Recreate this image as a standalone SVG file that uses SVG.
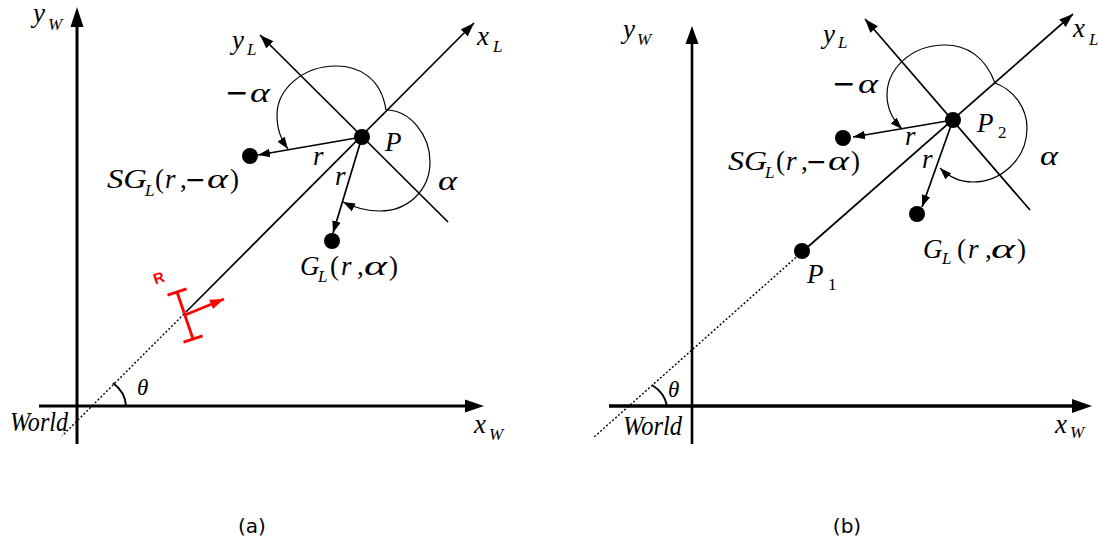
<svg xmlns="http://www.w3.org/2000/svg" width="1098" height="539" viewBox="0 0 1098 539">
<defs>
<style>
.m{font-family:"Liberation Serif","Times New Roman",serif;font-size:27px;font-style:italic;fill:#000}
.u{font-style:normal}
.mi{font-family:"DejaVu Sans",sans-serif;font-size:28px;font-weight:normal;fill:#000}
.s{font-family:"Liberation Serif","Times New Roman",serif;font-size:17px;font-style:italic;fill:#000}
.su{font-family:"Liberation Serif","Times New Roman",serif;font-size:17px;fill:#000}
.a{font-family:"Liberation Serif","Times New Roman",serif;font-size:27px;font-style:italic;fill:#000}
.cap{font-family:"DejaVu Sans",sans-serif;font-size:20px;fill:#000;text-anchor:middle}
.ax{stroke:#000;stroke-width:3;fill:none}
.loc{stroke:#000;stroke-width:1.7;fill:none}
.dot{stroke:#000;stroke-width:1.4;stroke-dasharray:2 2;fill:none}
.arc{stroke:#000;stroke-width:1.2;fill:none}
.rv{stroke:#000;stroke-width:1.7;fill:none}
.red{stroke:#f00;stroke-width:2.8;fill:none}
</style>
<marker id="hl" markerUnits="userSpaceOnUse" markerWidth="16" markerHeight="12" viewBox="0 -6 16 12" refX="14" refY="0" orient="auto"><path d="M0,-5 L14,0 L0,5 Z" fill="#000"/></marker>
<marker id="hs" markerUnits="userSpaceOnUse" markerWidth="14" markerHeight="10" viewBox="0 -5 14 10" refX="12" refY="0" orient="auto"><path d="M0,-4.3 L12,0 L0,4.3 Z" fill="#000"/></marker>
<marker id="hr" markerUnits="userSpaceOnUse" markerWidth="16" markerHeight="12" viewBox="0 -6 16 12" refX="14" refY="0" orient="auto"><path d="M0,-5 L14,0 L0,5 Z" fill="#f00"/></marker>
</defs>
<rect width="1098" height="539" fill="#fff"/>

<g id="connectors">
<!-- panel (a) world axes -->
<line class="ax" x1="77" y1="444" x2="77" y2="26"/>
<polygon points="77,7 70.5,27 83.5,27" fill="#000"/>
<line class="ax" x1="39" y1="406" x2="466" y2="406"/>
<polygon points="484,406 465,399.5 465,412.5" fill="#000"/>
<!-- panel (a) robot path and local axes -->
<line class="dot" x1="184" y1="314" x2="62" y2="436"/>
<line class="loc" x1="186" y1="312" x2="474" y2="23" marker-end="url(#hl)"/>
<line class="loc" x1="448" y1="222" x2="260" y2="35" marker-end="url(#hl)"/>
<path class="ax" style="stroke-width:2" d="M113,383 A36,32 0 0 1 126,406"/>
<!-- r vectors (a) -->
<line class="rv" x1="362" y1="137" x2="258" y2="155" marker-end="url(#hs)"/>
<line class="rv" x1="362" y1="137" x2="333" y2="233" marker-end="url(#hs)"/>
<!-- angle arcs (a) -->
<path class="arc" d="M386,110 C381,77 358,66 336,66 C302,66 277,90 277,115 C277,130 281,139 288,149" marker-end="url(#hs)"/>
<path class="arc" d="M386,110 C410,110 430,135 430,162 C430,190 408,211 380,211 C365,211 353,207 343,202" marker-end="url(#hs)"/>

<!-- panel (b) world axes -->
<line class="ax" style="stroke-width:2.6" x1="692" y1="444" x2="692" y2="43"/>
<polygon points="692,26 685.5,44 698.5,44" fill="#000"/>
<line class="ax" style="stroke-width:3.4" x1="609" y1="406" x2="1073" y2="406"/>
<polygon points="1092,406 1072,399 1072,413" fill="#000"/>
<!-- panel (b) line and local axes -->
<line class="dot" x1="802" y1="252" x2="593" y2="438"/>
<line class="loc" x1="802" y1="252" x2="1073" y2="14" marker-end="url(#hl)"/>
<line class="loc" x1="1030" y1="210" x2="865" y2="19" marker-end="url(#hl)"/>
<path class="ax" style="stroke-width:2" d="M652,385 A38,32 0 0 1 667,406"/>
<!-- r vectors (b) -->
<line class="rv" x1="953" y1="120" x2="853" y2="137" marker-end="url(#hs)"/>
<line class="rv" x1="953" y1="120" x2="922" y2="207" marker-end="url(#hs)"/>
<!-- angle arcs (b) -->
<path class="arc" d="M995,83 C985,56 966,45 945,45 C910,45 887,70 887,95 C887,110 893,120 902,129" marker-end="url(#hs)"/>
<path class="arc" d="M995,83 C1014,90 1027,108 1027,128 C1027,160 1000,182 973,182 C960,182 948,176 940,168" marker-end="url(#hs)"/>
</g>

<!-- panel (a) nodes -->
<g id="a-axes-labels">
<text class="m" x="33" y="22">y</text><text class="s" x="48" y="30">W</text>
<text class="m" x="474" y="433">x</text><text class="s" x="489" y="440">W</text>
<text class="m" x="232" y="49">y</text><text class="s" x="247" y="55">L</text>
<text class="m" x="477" y="45">x</text><text class="s" x="493" y="52">L</text>
<text class="m" x="10" y="431" textLength="58" lengthAdjust="spacingAndGlyphs">World</text>
<text class="m" x="137" y="395" style="font-size:23px">θ</text>
</g>
<g id="a-robot">
<line class="red" x1="177" y1="292" x2="193" y2="339"/>
<line class="red" x1="167.5" y1="295.2" x2="186.5" y2="288.8"/>
<line class="red" x1="183.5" y1="342.2" x2="202.5" y2="335.8"/>
<line class="red" x1="185" y1="315" x2="224" y2="299" marker-end="url(#hr)"/>
<text x="153" y="283" transform="rotate(-18 159 277)" style="font-family:'Liberation Sans',Arial,sans-serif;font-weight:bold;font-size:15px;fill:#f00">R</text>
</g>
<g id="a-P">
<circle cx="362" cy="137" r="8" fill="#000"/>
<text class="m" x="385" y="151">P</text>
</g>
<g id="a-angles">
<text class="mi" x="225" y="102">−</text><text class="a" x="250" y="102" textLength="20" lengthAdjust="spacingAndGlyphs">α</text>
<text class="a" x="438" y="190" textLength="19" lengthAdjust="spacingAndGlyphs">α</text>
<text class="m" x="313" y="165">r</text>
<text class="m" x="335" y="185">r</text>
</g>
<g id="a-SG">
<circle cx="250" cy="156" r="8" fill="#000"/>
<text class="m" x="107" y="188" textLength="40" lengthAdjust="spacingAndGlyphs">SG</text><text class="s" x="145" y="196">L</text>
<text class="m u" x="155" y="188">(</text><text class="m" x="165" y="188">r</text><text class="m u" x="180" y="188">,</text><text class="mi" x="185" y="188" style="font-size:25px">−</text><text class="a" x="207" y="188" textLength="21" lengthAdjust="spacingAndGlyphs">α</text><text class="m u" x="230" y="188">)</text>
</g>
<g id="a-G">
<circle cx="332" cy="241" r="8" fill="#000"/>
<text class="m" x="300" y="275">G</text><text class="s" x="318" y="282">L</text>
<text class="m u" x="330" y="275">(</text><text class="m" x="341" y="275">r</text><text class="m u" x="357" y="275">,</text><text class="a" x="364" y="275" textLength="23" lengthAdjust="spacingAndGlyphs">α</text><text class="m u" x="389" y="275">)</text>
</g>
<text class="cap" x="252" y="533">(a)</text>

<!-- panel (b) nodes -->
<g id="b-axes-labels">
<text class="m" x="623" y="38">y</text><text class="s" x="637" y="45">W</text>
<text class="m" x="1055" y="433">x</text><text class="s" x="1070" y="438">W</text>
<text class="m" x="823" y="43">y</text><text class="s" x="838" y="48">L</text>
<text class="m" x="1073" y="37">x</text><text class="s" x="1089" y="45">L</text>
<text class="m" x="623" y="435" textLength="59" lengthAdjust="spacingAndGlyphs">World</text>
<text class="m" x="668" y="397" style="font-size:23px">θ</text>
</g>
<g id="b-P1">
<circle cx="802" cy="251" r="8" fill="#000"/>
<text class="m" x="807" y="283">P</text><text class="su" x="828" y="290">1</text>
</g>
<g id="b-P2">
<circle cx="953" cy="120" r="8" fill="#000"/>
<text class="m" x="977" y="132">P</text><text class="su" x="998" y="138">2</text>
</g>
<g id="b-angles">
<text class="mi" x="832" y="93">−</text><text class="a" x="858" y="93" textLength="20" lengthAdjust="spacingAndGlyphs">α</text>
<text class="a" x="1040" y="165" textLength="18" lengthAdjust="spacingAndGlyphs">α</text>
<text class="m" x="905" y="145">r</text>
<text class="m" x="922" y="168">r</text>
</g>
<g id="b-SG">
<circle cx="843" cy="138" r="8" fill="#000"/>
<text class="m" x="728" y="170" textLength="39" lengthAdjust="spacingAndGlyphs">SG</text><text class="s" x="765" y="178">L</text>
<text class="m u" x="776" y="170">(</text><text class="m" x="786" y="170">r</text><text class="m u" x="801" y="170">,</text><text class="mi" x="806" y="170" style="font-size:25px">−</text><text class="a" x="828" y="170" textLength="21" lengthAdjust="spacingAndGlyphs">α</text><text class="m u" x="851" y="170">)</text>
</g>
<g id="b-G">
<circle cx="917" cy="214" r="8" fill="#000"/>
<text class="m" x="923" y="258">G</text><text class="s" x="942" y="264">L</text>
<text class="m u" x="957" y="258">(</text><text class="m" x="968" y="258">r</text><text class="m u" x="985" y="258">,</text><text class="a" x="991" y="258" textLength="24" lengthAdjust="spacingAndGlyphs">α</text><text class="m u" x="1017" y="258">)</text>
</g>
<text class="cap" x="847" y="533">(b)</text>
</svg>
